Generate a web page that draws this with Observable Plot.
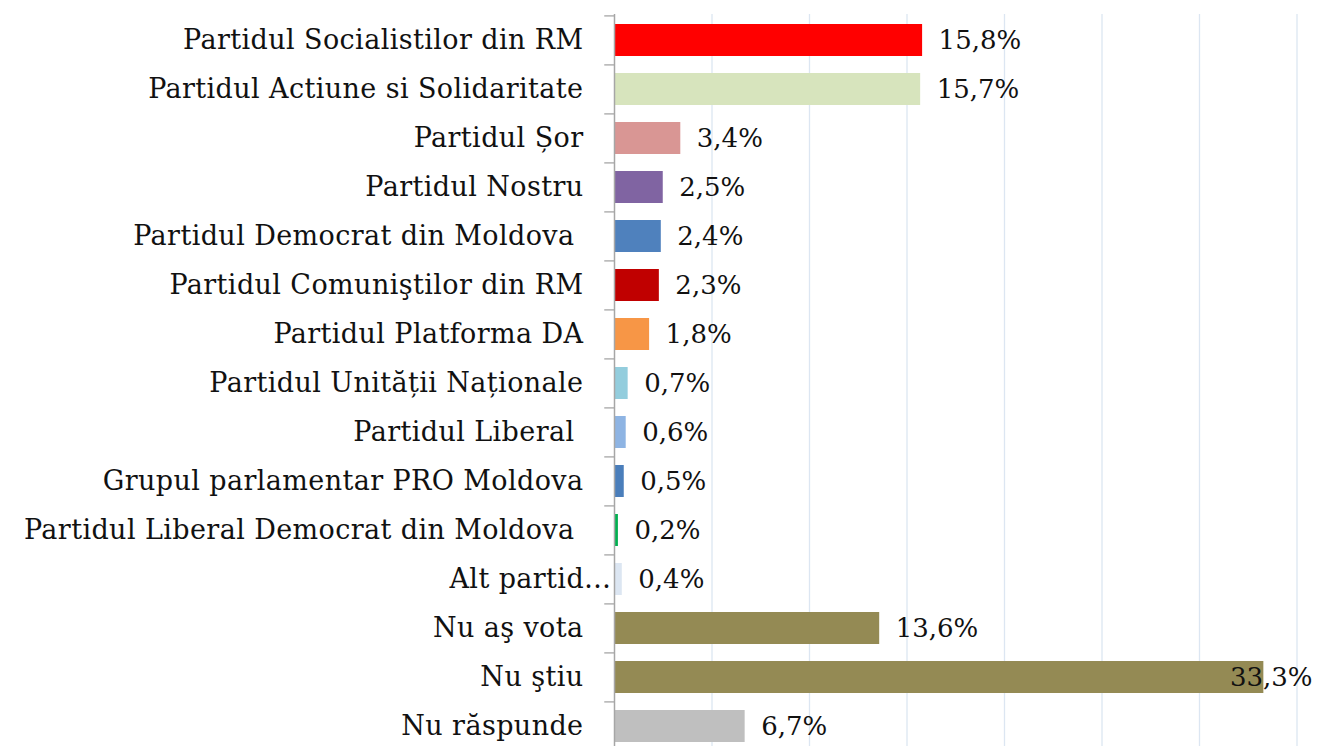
<!DOCTYPE html>
<html><head><meta charset="utf-8">
<script src="https://cdn.jsdelivr.net/npm/d3@7"></script>
<script src="https://cdn.jsdelivr.net/npm/@observablehq/plot@0.6"></script>
<style>html,body{margin:0;padding:0;background:#fff;overflow:hidden}
.cat text{letter-spacing:0.4px}</style>
</head><body><div id="chart"></div>
<script>
const categories = [
  "Partidul Socialistilor din RM",
  "Partidul Actiune si Solidaritate",
  "Partidul Șor",
  "Partidul Nostru",
  "Partidul Democrat din Moldova\u00a0",
  "Partidul Comuniştilor din RM",
  "Partidul Platforma DA",
  "Partidul Unității Naționale",
  "Partidul Liberal\u00a0",
  "Grupul parlamentar PRO Moldova",
  "Partidul Liberal Democrat din Moldova\u00a0",
  "Alt partid…",
  "Nu aş vota",
  "Nu ştiu",
  "Nu răspunde"
];
const values = [15.8, 15.7, 3.4, 2.5, 2.4, 2.3, 1.8, 0.7, 0.6, 0.5, 0.2, 0.4, 13.6, 33.3, 6.7];
const valueLabels = ["15,8%", "15,7%", "3,4%", "2,5%", "2,4%", "2,3%", "1,8%", "0,7%", "0,6%", "0,5%", "0,2%", "0,4%", "13,6%", "33,3%", "6,7%"];
const colors = ["#ff0000", "#d7e4bd", "#d99694", "#8064a2", "#4f81bd", "#c00000", "#f79646", "#93cddd", "#8eb4e3", "#4a7ebb", "#00b050", "#dce6f2", "#948a54", "#948a54", "#bfbfbf"];
const gridTicks = [5, 10, 15, 20, 25, 30, 35];

const data = categories.map((c, i) => ({category: c, value: values[i], label: valueLabels[i], color: colors[i]}));
const truncated = "Alt partid…";
const step = (746 + 6 - 14) / categories.length;

const chart = Plot.plot({
  width: 1317,
  height: 746,
  marginLeft: 614,
  marginRight: 1,
  marginTop: 14,
  marginBottom: -6,
  x: {domain: [0, 36], axis: null},
  y: {domain: categories, axis: null, paddingInner: 0.34, paddingOuter: 0.17},
  style: {fontFamily: "'DejaVu Serif', serif", background: "white", color: "black"},
  marks: [
    Plot.ruleX(gridTicks, {stroke: "#dce6f2", strokeWidth: 1.3}),
    Plot.barX(data, {x: "value", y: "category", fill: "color"}),
    Plot.ruleX([0], {stroke: "#a6a6a6", strokeWidth: 1.5}),
    Plot.ruleY(categories, {y: d => d, x1: -0.5, x2: 0, dy: -step / 2, stroke: "#a6a6a6", strokeWidth: 1.3}),
    Plot.text(data.filter(d => d.category !== truncated), {x: 0, y: "category", text: "category", textAnchor: "end", dx: -31, fontSize: 27, fill: "#111", className: "cat"}),
    Plot.text(data.filter(d => d.category === truncated), {x: 0, y: "category", text: "category", textAnchor: "end", dx: -3, fontSize: 27, fill: "#111", className: "cat"}),
    Plot.text(data.filter(d => d.value < 30), {x: "value", y: "category", text: "label", textAnchor: "start", dx: 16, fontSize: 26, fill: "#111"}),
    Plot.text(data.filter(d => d.value >= 30), {x: 36, y: "category", text: "label", textAnchor: "end", dx: -4, fontSize: 26, fill: "#111"})
  ]
});
document.getElementById("chart").appendChild(chart);
</script>
</body></html>
